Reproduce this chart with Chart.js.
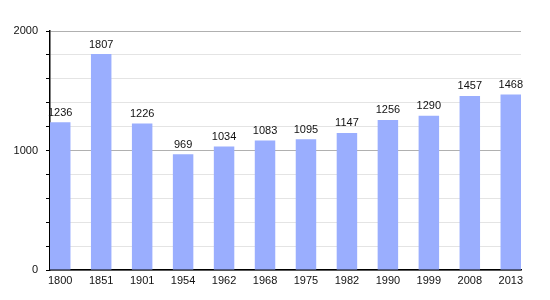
<!DOCTYPE html>
<html lang="en">
<head>
  <meta charset="UTF-8">
  <title>Population</title>
  <script src="https://cdn.jsdelivr.net/npm/chart.js"></script>
  <style>
    html, body { margin: 0; padding: 0; background: white; }
    #wrap { width: 550px; height: 300px; }
  </style>
</head>
<body>
  <div id="wrap"><canvas id="popChart"></canvas></div>

  <script>
    const years = ['1800', '1851', '1901', '1954', '1962', '1968', '1975', '1982', '1990', '1999', '2008', '2013'];
    const population = [1236, 1807, 1226, 969, 1034, 1083, 1095, 1147, 1256, 1290, 1457, 1468];
    const yLabels = [0, 1000, 2000];

    const fontFamily = '"Liberation Sans", Arial, sans-serif';

    // value labels above each bar
    const valueLabels = {
      id: 'valueLabels',
      afterDatasetsDraw(chart) {
        const ctx = chart.ctx;
        const meta = chart.getDatasetMeta(0);
        ctx.save();
        ctx.font = '11px ' + fontFamily;
        ctx.fillStyle = '#111';
        ctx.textAlign = 'center';
        ctx.textBaseline = 'bottom';
        meta.data.forEach((bar, i) => {
          ctx.fillText(String(population[i]), bar.x, bar.y - 4);
        });
        ctx.restore();
      }
    };

    const ctx = document.getElementById('popChart').getContext('2d');
    new Chart(ctx, {
      type: 'bar',
      data: {
        datasets: [{
          data: population.map((v, i) => ({ x: i, y: v })),
          backgroundColor: '#9aaefe',
          barPercentage: 1,
          categoryPercentage: 0.5,
        }]
      },
      options: {
        responsive: true,
        maintainAspectRatio: false,
        animation: false,
        layout: { padding: { top: 31, right: 29, left: 0, bottom: 0 } },
        plugins: {
          legend: { display: false },
          tooltip: { enabled: false }
        },
        scales: {
          x: {
            type: 'linear',
            offset: false,
            min: -0.25,
            max: 11.25,
            afterBuildTicks(scale) {
              scale.ticks = years.map((_, i) => ({ value: i }));
            },
            afterFit(scale) { scale.height = 30; },
            grid: { display: false, drawTicks: false },
            border: { color: '#000', width: 1.5 },
            ticks: {
              padding: 4,
              autoSkip: false,
              maxRotation: 0,
              color: '#111',
              font: { family: fontFamily, size: 11 },
              callback: (v) => years[v] ?? ''
            }
          },
          y: {
            min: 0,
            max: 2000,
            afterFit(scale) { scale.width = 50; },
            border: { color: '#000', width: 1.5 },
            grid: {
              color: (c) => (c.tick && yLabels.includes(c.tick.value)) ? '#b0b0b0' : '#e4e4e4',
              tickColor: '#000',
              tickLength: 4,
              lineWidth: 1
            },
            ticks: {
              stepSize: 200,
              padding: 8,
              color: '#111',
              font: { family: fontFamily, size: 11 },
              callback: (v) => yLabels.includes(v) ? String(v) : ''
            }
          }
        }
      },
      plugins: [valueLabels]
    });
  </script>
</body>
</html>
